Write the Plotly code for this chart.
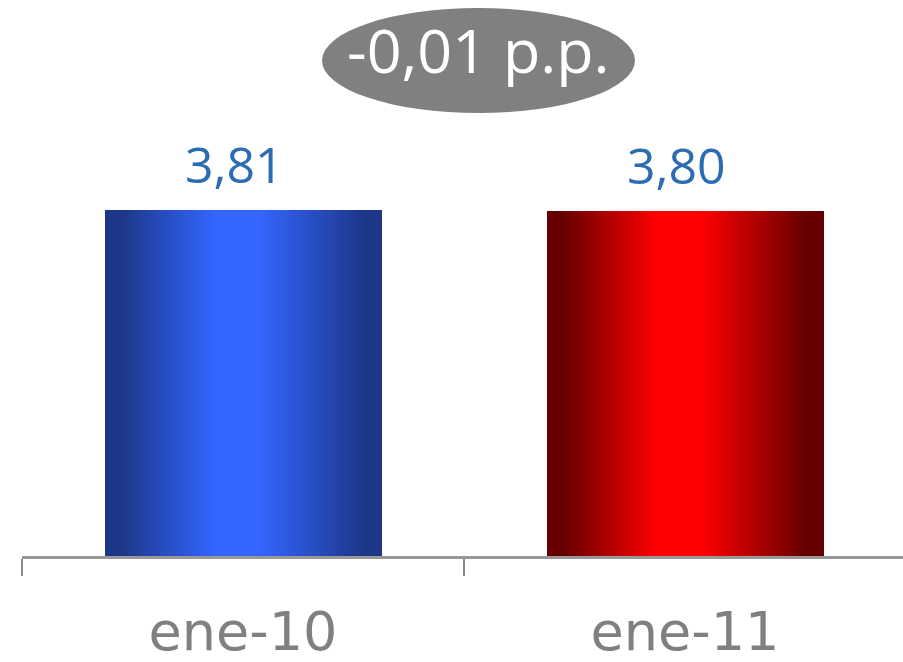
import plotly.graph_objects as go

categories = ["ene-10", "ene-11"]
values = [3.81, 3.80]
value_labels = ["3,81", "3,80"]
change_label = "-0,01 p.p."

edge_colors = [(0x1c, 0x36, 0x88), (0x66, 0x00, 0x00)]
center_colors = [(0x33, 0x66, 0xff), (0xff, 0x00, 0x00)]

W, H = 903, 662
ml, mr, mt, mb = 22, 0, 120, 106
pw, ph = W - ml - mr, H - mt - mb
cat_px = 442.0
bar_w = 277.0 / cat_px
x_max = -0.5 + pw / cat_px
y_max = (H - mb - mt) / ((H - mb - 210) / 3.81)

def profile(t):
    peak_lo, peak_hi = 0.40, 0.56
    lo_edge, hi_edge = 0.06, 0.94
    if t < peak_lo:
        s = max(0.0, (t - lo_edge) / (peak_lo - lo_edge))
    elif t > peak_hi:
        s = max(0.0, (hi_edge - t) / (hi_edge - peak_hi))
    else:
        s = 1.0
    return s

def mix(c1, c2, s):
    return "rgb(%d,%d,%d)" % tuple(round(a + (b - a) * s) for a, b in zip(c1, c2))

fig = go.Figure()
N = 60
for ci, (cat, val) in enumerate(zip(categories, values)):
    for i in range(N):
        t = (i + 0.5) / N
        fig.add_trace(go.Bar(
            x=[cat], y=[val],
            width=bar_w / N * 1.3 if i < N - 1 else bar_w / N,
            offset=-bar_w / 2 + i * bar_w / N,
            marker=dict(color=mix(edge_colors[ci], center_colors[ci], profile(t)), line=dict(width=0)),
            showlegend=False, hoverinfo="skip",
        ))

for cat, val, lab in zip(categories, values, value_labels):
    fig.add_annotation(x=cat, y=val, text=lab, showarrow=False, yanchor="bottom",
                       xshift=-9, yshift=10,
                       font=dict(family="Open Sans", size=50, color="#2b6cb3"))

def px_x(px):
    return (px - ml) / pw

def px_y(py):
    return (H - mb - py) / ph

fig.add_shape(type="circle", xref="paper", yref="paper",
              x0=px_x(322), x1=px_x(635), y0=px_y(113), y1=px_y(8),
              fillcolor="#808080", line=dict(width=0), layer="above")
fig.add_annotation(xref="paper", yref="paper", x=px_x(478), y=px_y(49), text=change_label,
                   showarrow=False, xanchor="center", yanchor="middle",
                   font=dict(family="Open Sans", size=61, color="white"))

fig.update_layout(
    width=W, height=H, margin=dict(l=ml, r=mr, t=mt, b=mb, autoexpand=False),
    paper_bgcolor="white", plot_bgcolor="white",
    barmode="overlay", bargap=0, showlegend=False,
    xaxis=dict(type="category", range=[-0.5, x_max], tickson="boundaries",
               ticks="outside", ticklen=17, tickwidth=2, tickcolor="#888888",
               showline=True, linecolor="#999999", linewidth=3,
               showgrid=False, zeroline=False, automargin=False,
               tickfont=dict(family="DejaVu Sans", size=54, color="#808080"),
               ticklabelstandoff=26),
    yaxis=dict(range=[0, y_max], visible=False, showgrid=False, zeroline=False, automargin=False),
)

fig.write_html("out.html", config={"displayModeBar": False},
               post_script="document.body.style.margin='0';document.body.style.overflow='hidden';")
